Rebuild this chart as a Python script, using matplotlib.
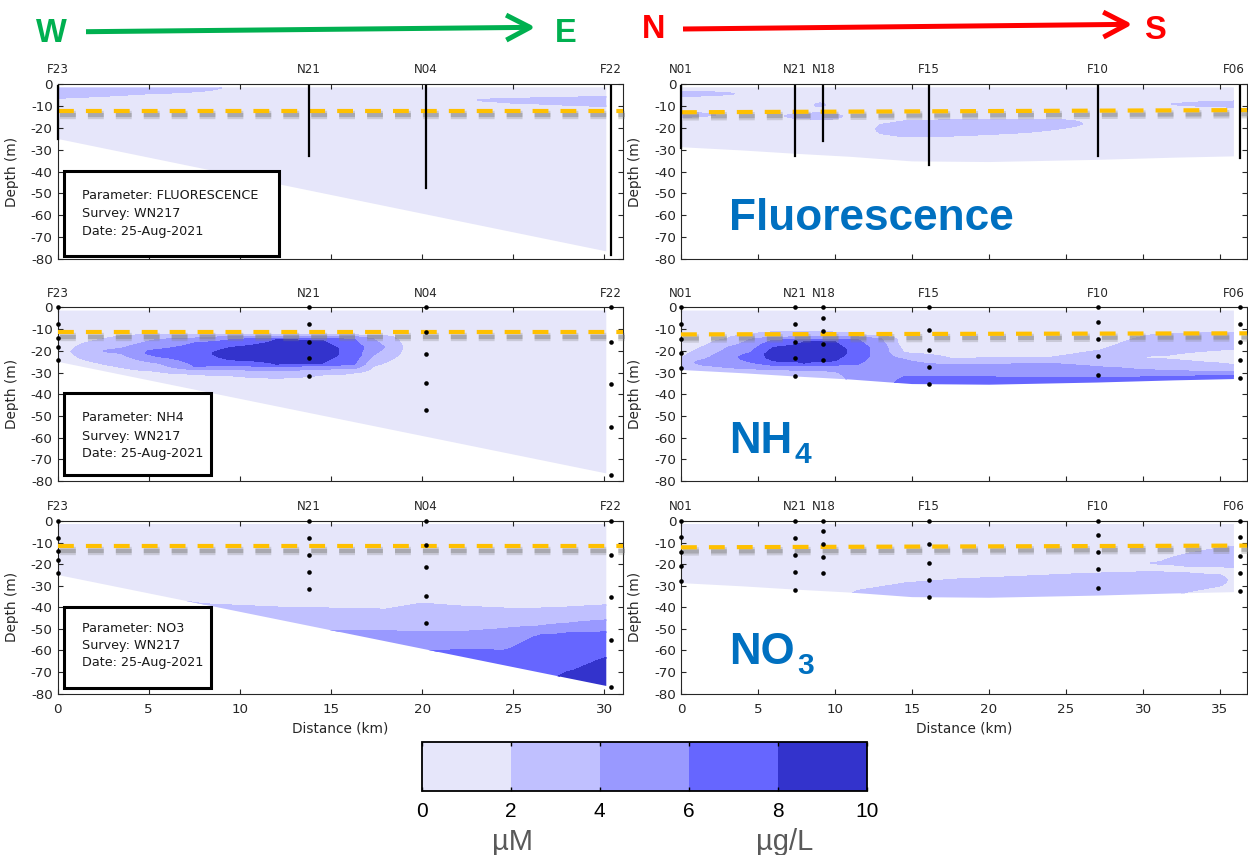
import numpy as np
import matplotlib
matplotlib.use("Agg")
import matplotlib.pyplot as plt
from matplotlib.patches import Polygon, Rectangle, FancyArrowPatch
import matplotlib.patheffects as pe

plt.rcParams['font.family'] = ['DejaVu Sans']
plt.rcParams['axes.unicode_minus'] = False

# ------------------------------------------------------------------ data
conc_levels = [0, 2, 4, 6, 8, 10]
conc_colors = ['#E6E6FA', '#C0C0FF', '#9999FF', '#6666FF', '#3333CC']
cbar_ticks = [0, 2, 4, 6, 8, 10]
parameters = ['FLUORESCENCE', 'NH4', 'NO3']
survey = 'WN217'
survey_date = '25-Aug-2021'

# West -> East transect
we_stations = ['F23', 'N21', 'N04', 'F22']
we_station_km = [0.0, 13.8, 20.2, 30.35]
we_bottle_depth = [[0, -7.7, -13.9, -18.0, -24.2],
                   [0, -7.8, -15.7, -23.5, -31.5],
                   [0, -11.3, -21.3, -35.0, -47.3],
                   [0, -15.8, -35.3, -55.2, -77.2]]
we_cast_top = -1.0
we_cast_bottom = [-25.0, -33.0, -47.5, -78.0]
we_seafloor_km = [0.0, 30.1]
we_seafloor_depth = [-25.0, -76.5]
we_pycno_start = [-12.0, -11.5, -11.8]
we_pycno_end = [-12.0, -11.5, -11.8]

# North -> South transect
ns_stations = ['N01', 'N21', 'N18', 'F15', 'F10', 'F06']
ns_station_km = [0.0, 7.4, 9.25, 16.1, 27.05, 36.3]
ns_bottle_depth = [[0, -7.5, -14.5, -21.0, -28.0],
                   [0, -7.8, -15.8, -23.5, -31.8],
                   [0, -4.8, -10.7, -16.8, -24.3],
                   [0, -10.5, -19.4, -27.4, -35.3],
                   [0, -6.5, -14.5, -22.3, -31.0],
                   [0, -7.5, -16.0, -24.0, -32.5]]
ns_cast_top = -1.0
ns_cast_bottom = [-29.3, -33.0, -26.0, -37.0, -32.7, -33.9]
ns_seafloor_km = [0.0, 4.0, 7.4, 11.0, 15.0, 20.0, 27.0, 32.0, 35.9]
ns_seafloor_depth = [-28.8, -30.3, -31.8, -33.2, -35.3, -35.6, -34.6, -33.6, -33.0]
ns_pycno_start = [-12.8, -12.4, -12.2]
ns_pycno_end = [-11.8, -11.9, -11.4]

surface_limit = -1.4

# concentration (uM) layers read per column: (value, bottom depth of layer)
fluo_we_km = [0, 5, 8, 10, 15, 20, 22, 24, 27, 30.1, 31.1]
fluo_we_layers = [
    [(3, -6.3), (1, None)],
    [(3, -4.2), (1, None)],
    [(3, -3.0), (1, None)],
    [(1, None)],
    [(1, None)],
    [(1, None)],
    [(1, None)],
    [(1, -6.8), (3, -7.8), (1, None)],
    [(1, -6.3), (3, -9.0), (1, None)],
    [(1, -5.7), (3, -10.0), (1, None)],
    [(1, -5.7), (3, -10.0), (1, None)],
]

nh4_we_km = [0, 1.5, 3.5, 5.5, 7.5, 9.5, 12, 14.5, 16.3, 17.3, 18.5, 19.3, 31.1]
nh4_we_layers = [
    [(1, None)],
    [(1, -16.5), (3, -24.0), (1, None)],
    [(1, -13.2), (3, -19.0), (5, -21.0), (3, -27.5), (1, None)],
    [(1, -12.6), (3, -14.8), (5, -19.5), (7, -22.5), (5, -25.5), (3, -29.3), (1, None)],
    [(1, -12.5), (3, -14.2), (5, -16.5), (7, -27.0), (5, -28.5), (3, -30.6), (1, None)],
    [(1, -12.5), (3, -13.5), (5, -15.0), (7, -18.5), (9, -24.0), (7, -26.7), (5, -28.5), (3, -31.3), (1, None)],
    [(1, -12.5), (3, -13.3), (5, -14.2), (7, -15.0), (9, -26.0), (7, -27.0), (5, -29.0), (3, -32.5), (1, None)],
    [(1, -12.5), (3, -13.3), (5, -14.2), (7, -15.2), (9, -25.5), (7, -26.7), (5, -28.3), (3, -31.0), (1, None)],
    [(1, -12.8), (3, -13.5), (5, -15.0), (7, -26.0), (5, -28.0), (3, -30.0), (1, None)],
    [(1, -13.0), (3, -14.5), (5, -22.0), (3, -27.0), (1, None)],
    [(1, -14.0), (3, -23.0), (1, None)],
    [(1, None)],
    [(1, None)],
]

no3_we_km = [0, 6, 7, 8, 12, 15, 18, 20, 22, 24.5, 26.5, 28, 30.1, 31.1]
no3_we_layers = [
    [(1, None)],
    [(1, None)],
    [(1, -37.3), (3, None)],
    [(1, -38.5), (3, None)],
    [(1, -40.0), (3, None)],
    [(1, -40.5), (3, -51.0), (5, None)],
    [(1, -41.0), (3, -51.0), (5, None)],
    [(1, -38.2), (3, -51.5), (5, -60.5), (7, None)],
    [(1, -39.5), (3, -51.5), (5, -59.8), (7, None)],
    [(1, -40.5), (3, -50.0), (5, -60.0), (7, -73.0), (9, None)],
    [(1, -40.5), (3, -48.8), (5, -53.0), (7, -76.0), (9, None)],
    [(1, -40.0), (3, -47.5), (5, -52.0), (7, -70.0), (9, None)],
    [(1, -39.0), (3, -46.0), (5, -51.5), (7, -63.5), (9, None)],
    [(1, -39.0), (3, -46.0), (5, -51.5), (7, -63.5), (9, None)],
]

fluo_ns_km = [0, 1.5, 3, 4, 6, 7.5, 8.3, 9, 9.8, 11.2, 12.3, 13, 14.6, 18, 22.3, 25.3, 26.8, 30.5, 33, 35.9, 36.8]
fluo_ns_layers = [
    [(1, -3.3), (3, -5.6), (1, -12.8), (3, -15.0), (1, None)],
    [(1, -3.5), (3, -5.0), (1, -13.5), (3, -14.5), (1, None)],
    [(1, -4.0), (3, -4.6), (1, None)],
    [(1, None)],
    [(1, None)],
    [(1, -13.5), (3, -15.5), (1, None)],
    [(1, -13.4), (3, -15.7), (1, None)],
    [(1, -8.7), (3, -10.2), (1, -13.2), (3, -16.0), (1, None)],
    [(1, -13.5), (3, -15.8), (1, None)],
    [(1, None)],
    [(1, None)],
    [(1, -18.5), (3, -22.5), (1, None)],
    [(1, -16.8), (3, -24.0), (1, None)],
    [(1, -16.3), (3, -23.5), (1, None)],
    [(1, -16.3), (3, -22.0), (1, None)],
    [(1, -16.5), (3, -19.5), (1, None)],
    [(1, None)],
    [(1, None)],
    [(1, -8.6), (3, -9.6), (1, None)],
    [(1, -7.8), (3, -10.3), (1, None)],
    [(1, -7.8), (3, -10.3), (1, None)],
]

nh4_ns_km = [0, 1.5, 3, 4.5, 6, 8, 10, 11.5, 13, 14.5, 17.5, 21, 24, 27.2, 29.4, 30.2, 31.5, 34, 36, 36.8]
nh4_ns_layers = [
    [(1, -23.6), (3, None)],
    [(1, -18.0), (3, -24.0), (5, -26.5), (3, None)],
    [(1, -14.4), (3, -18.5), (5, -27.5), (3, None)],
    [(1, -12.8), (3, -14.8), (5, -21.0), (7, -25.0), (5, -28.0), (3, None)],
    [(1, -11.4), (3, -13.8), (5, -15.2), (7, -18.5), (9, -24.5), (7, -26.5), (5, -28.4), (3, None)],
    [(1, -11.0), (3, -13.7), (5, -14.9), (7, -16.0), (9, -25.5), (7, -26.5), (5, -28.8), (3, None)],
    [(1, -11.5), (3, -13.7), (5, -14.9), (7, -16.0), (9, -24.5), (7, -26.4), (5, -29.2), (3, None)],
    [(1, -12.9), (3, -13.7), (5, -14.9), (7, -26.0), (5, None)],
    [(1, -13.5), (3, -14.5), (5, None)],
    [(1, -21.0), (3, -24.0), (5, -32.0), (7, None)],
    [(1, -23.6), (3, -26.6), (5, -32.0), (7, None)],
    [(1, -23.3), (3, -26.2), (5, -32.2), (7, None)],
    [(1, -23.1), (3, -25.9), (5, -32.3), (7, None)],
    [(1, -19.8), (3, -27.5), (5, -32.3), (7, None)],
    [(1, -14.5), (3, -28.5), (5, -32.3), (7, None)],
    [(1, -13.0), (3, -22.5), (1, -23.3), (3, -28.8), (5, -32.0), (7, None)],
    [(1, -12.1), (3, -22.0), (1, -23.8), (3, -29.3), (5, -31.8), (7, None)],
    [(1, -11.7), (3, -20.0), (1, -25.3), (3, -29.5), (5, -31.6), (7, None)],
    [(1, -11.7), (3, -19.0), (1, -26.6), (3, -29.8), (5, -31.5), (7, None)],
    [(1, -11.7), (3, -19.0), (1, -26.6), (3, -29.8), (5, -31.5), (7, None)],
]

no3_ns_km = [0, 10, 11.5, 14.6, 18, 22.3, 26, 30, 31, 33, 35, 35.9, 36.8]
no3_ns_layers = [
    [(1, None)],
    [(1, None)],
    [(1, -32.3), (3, None)],
    [(1, -28.8), (3, None)],
    [(1, -27.0), (3, None)],
    [(1, -25.7), (3, None)],
    [(1, -24.5), (3, None)],
    [(1, -23.7), (3, None)],
    [(1, -19.2), (3, -19.8), (1, -23.6), (3, None)],
    [(1, -15.0), (3, -21.0), (1, -24.2), (3, -32.6), (1, None)],
    [(1, -12.5), (3, -21.2), (1, -25.0), (3, -30.0), (1, None)],
    [(1, -12.0), (3, -21.3), (1, None)],
    [(1, -12.0), (3, -21.3), (1, None)],
]

# ------------------------------------------------------------------ helpers
W, H = 1248, 855
BLUE = '#0070C0'


def column_knots(layers):
    kd, kv = [], []
    top, prev = 0.0, None
    for val, bot in layers:
        b = 95.0 if bot is None else -bot
        d = min(4.0, (b - top) / 2.0)
        kd.append(top)
        kv.append(val if prev is None else (prev + val) / 2.0)
        kd.append(top + d)
        kv.append(val)
        if b - d > top + d + 1e-6:
            kd.append(b - d)
            kv.append(val)
        prev, top = val, b
    kd.append(96.0)
    kv.append(prev)
    return kd, kv


def field(col_km, col_layers):
    depth = np.arange(0, 95.01, 0.25)
    V = np.column_stack([np.interp(depth, *column_knots(l)) for l in col_layers])
    return -depth, V


def rect(l, t, r, b):
    return [l / W, 1 - b / H, (r - l) / W, (b - t) / H]


fig = plt.figure(figsize=(W / 100, H / 100), dpi=100)

rows_px = [(84.3, 259.0), (307.5, 481.0), (521.0, 693.5)]
cols_px = [(57.5, 622.7), (681.0, 1247.0)]
x_max = [31.0, 36.75]

we_fields = [(fluo_we_km, fluo_we_layers), (nh4_we_km, nh4_we_layers), (no3_we_km, no3_we_layers)]
ns_fields = [(fluo_ns_km, fluo_ns_layers), (nh4_ns_km, nh4_ns_layers), (no3_ns_km, no3_ns_layers)]

box_px = [(64.3, 171, 279, 256), (64, 393, 211, 475), (64, 607, 211, 688)]
box_lines_px = [(195, 213, 231), (417.3, 436, 454), (628.3, 645.7, 662.7)]

cs_for_bar = None
for r in range(3):
    for c in range(2):
        ax = fig.add_axes(rect(cols_px[c][0], rows_px[r][0], cols_px[c][1], rows_px[r][1]))
        if c == 0:
            km, layers = we_fields[r]
            sea_km, sea_z = we_seafloor_km, we_seafloor_depth
            st_names, st_km = we_stations, we_station_km
            bottles, cast_top, cast_bot = we_bottle_depth, we_cast_top, we_cast_bottom
            p0, p1 = we_pycno_start[r], we_pycno_end[r]
        else:
            km, layers = ns_fields[r]
            sea_km, sea_z = ns_seafloor_km, ns_seafloor_depth
            st_names, st_km = ns_stations, ns_station_km
            bottles, cast_top, cast_bot = ns_bottle_depth, ns_cast_top, ns_cast_bottom
            p0, p1 = ns_pycno_start[r], ns_pycno_end[r]
        xm = x_max[c]

        z, V = field(km, layers)
        cs = ax.contourf(km, z, V, levels=conc_levels, colors=conc_colors, zorder=1)
        cs.set_edgecolor('face')
        cs.set_linewidth(0.4)
        verts = [(sea_km[0], surface_limit), (sea_km[-1], surface_limit)] + \
            list(zip(sea_km[::-1], sea_z[::-1]))
        poly = Polygon(verts, closed=True, facecolor='none', edgecolor='none',
                       transform=ax.transData)
        ax.add_patch(poly)
        cs.set_clip_path(poly)
        if r == 1 and c == 0:
            cs_for_bar = cs

        # pycnocline dashed line with soft shadow
        ax.plot([0, xm], [p0, p1], color='#FFC000', lw=3.0, dashes=(3.8, 2.9),
                zorder=5, clip_on=False,
                path_effects=[pe.SimpleLineShadow(offset=(1.5, -3.0), shadow_color='#808080',
                                                  alpha=0.28, linewidth=6.0),
                              pe.SimpleLineShadow(offset=(1.5, -3.0), shadow_color='#808080',
                                                  alpha=0.45, linewidth=3.0),
                              pe.Normal()])

        # station marks
        for i, (nm, sk) in enumerate(zip(st_names, st_km)):
            if r == 0:
                ax.plot([sk, sk], [cast_top, cast_bot[i]], color='black', lw=1.6,
                        zorder=6, clip_on=False)
            else:
                ax.plot([sk] * len(bottles[i]), bottles[i], 'o', color='black', ms=3.3,
                        mec='none', zorder=6, clip_on=False)
            dx = -4.5 if (c == 1 and i == len(st_names) - 1) else 0
            ax.annotate(nm, xy=(sk, 1.0), xycoords=('data', 'axes fraction'),
                        xytext=(dx, 10.4), textcoords='offset points', ha='center',
                        va='center', fontsize=8.6, color='#262626', annotation_clip=False)

        ax.set_xlim(0, xm)
        ax.set_ylim(-80, 0)
        ax.set_xticks(np.arange(0, xm, 5))
        ax.set_yticks(np.arange(-80, 1, 10))
        ax.tick_params(direction='in', top=True, right=True, length=3.5, width=0.8,
                       labelsize=9.7, colors='#262626')
        ax.tick_params(axis='y', pad=3.5)
        ax.tick_params(axis='x', pad=7, labelbottom=(r == 2))
        for s in ax.spines.values():
            s.set_color('#262626')
            s.set_linewidth(0.8)
        ax.set_ylabel('Depth (m)', fontsize=9.8, color='#262626')
        ax.yaxis.set_label_coords(-0.069, 0.5)
        if r == 2:
            ax.set_xlabel('Distance (km)', fontsize=9.8, color='#262626')
            ax.xaxis.set_label_coords(0.5, -0.165)

        if c == 0:
            l, t, rr, b = box_px[r]
            fig.add_artist(Rectangle((l / W, 1 - b / H), (rr - l) / W, (b - t) / H,
                                     transform=fig.transFigure, facecolor='white',
                                     edgecolor='black', lw=2.2, zorder=10))
            lines = ['Parameter: ' + parameters[r], 'Survey: ' + survey, 'Date: ' + survey_date]
            for txt, yy in zip(lines, box_lines_px[r]):
                fig.text(81.6 / W, 1 - yy / H, txt, ha='left', va='center', fontsize=9.2,
                         color='#1a1a1a', zorder=11)

# big panel labels
big = dict(fontweight='bold', color=BLUE, family=['Liberation Sans', 'DejaVu Sans'], va='baseline',
           ha='left', zorder=12)
fig.text(729.5 / W, 1 - 230 / H, 'Fluorescence', fontsize=31.8, **big)
fig.text(729.5 / W, 1 - 452.7 / H, 'NH', fontsize=31.5, **big)
fig.text(794.5 / W, 1 - 463.3 / H, '4', fontsize=21.5, **big)
fig.text(729.5 / W, 1 - 664.3 / H, 'NO', fontsize=31.5, **big)
fig.text(797.5 / W, 1 - 674.3 / H, '3', fontsize=21.5, **big)

# direction arrows
GREEN, RED = '#00B050', '#FF0000'
dirtxt = dict(fontweight='bold', fontsize=23.5, family=['Liberation Sans', 'DejaVu Sans'],
              ha='center', va='baseline')
fig.text(51.8 / W, 1 - 41.7 / H, 'W', color=GREEN, **dirtxt)
fig.text(566 / W, 1 - 41.7 / H, 'E', color=GREEN, **dirtxt)
fig.text(654 / W, 1 - 38.3 / H, 'N', color=RED, **dirtxt)
fig.text(1155 / W, 1 - 39.3 / H, 'S', color=RED, **dirtxt)
for (xa, ya, xb, yb, col) in [(86, 31.7, 535.5, 27.3, GREEN), (683, 29.0, 1132.6, 24.3, RED)]:
    fig.add_artist(FancyArrowPatch((xa / W, 1 - ya / H), (xb / W, 1 - yb / H),
                                   transform=fig.transFigure,
                                   arrowstyle='->,head_length=0.86,head_width=0.45',
                                   mutation_scale=20, lw=3.6, color=col,
                                   shrinkA=0, shrinkB=0, capstyle='butt'))

# colour bar
cax = fig.add_axes(rect(421.7, 742.3, 866.7, 790.7))
cb = fig.colorbar(cs_for_bar, cax=cax, orientation='horizontal', ticks=cbar_ticks)
cb.outline.set_linewidth(1.3)
cax.xaxis.set_ticks_position('both')
cax.tick_params(direction='in', length=3, width=1.0, labelsize=15, pad=8,
                labeltop=False, labelbottom=True)
cax.set_xticklabels([str(t) for t in cbar_ticks])
for lab in cax.get_xticklabels():
    lab.set_family(['Liberation Sans', 'DejaVu Sans'])
fig.text(512.5 / W, 1 - 842 / H, 'µM', ha='center', va='center', fontsize=21,
         color='#595959', family=['Liberation Sans', 'DejaVu Sans'])
fig.text(785 / W, 1 - 842 / H, 'µg/L', ha='center', va='center', fontsize=21,
         color='#595959', family=['Liberation Sans', 'DejaVu Sans'])

fig.savefig('out.png', dpi=100)
